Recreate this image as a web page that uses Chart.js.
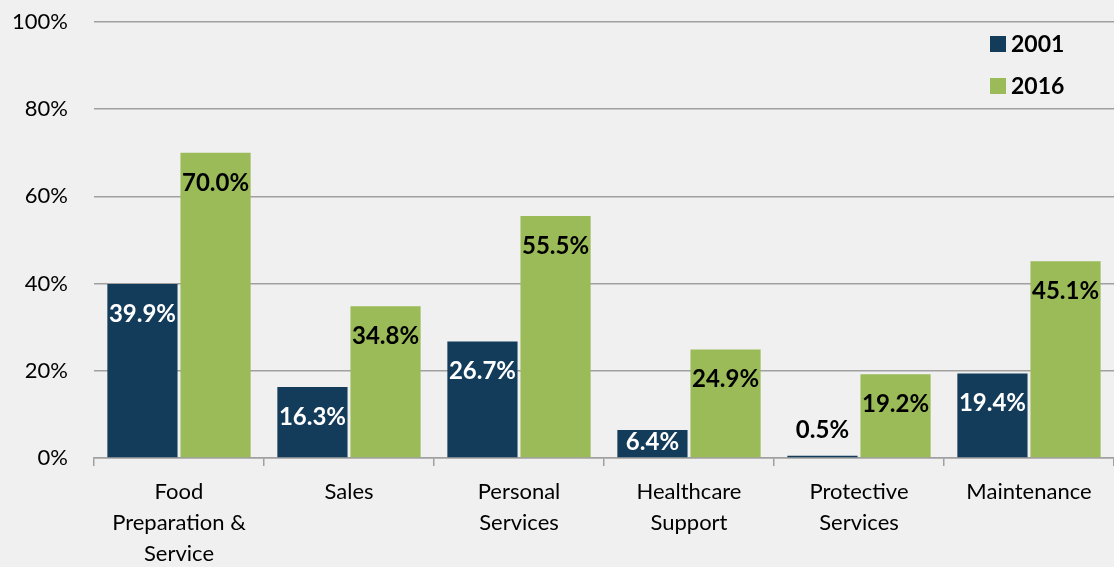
<!DOCTYPE html>
<html>
<head>
<meta charset="utf-8">
<script src="https://cdn.jsdelivr.net/npm/chart.js@4.4.1/dist/chart.umd.min.js"></script>
<style>
  html, body { margin: 0; padding: 0; background: #f0f0f0; }
  #wrap { width: 1114px; height: 567px; position: relative; }
</style>
</head>
<body>
<div id="wrap"><canvas id="chart"></canvas></div>
<script>
// --- DATA ---
const categories = [
    ['Food', 'Preparation &', 'Service'],
    'Sales',
    ['Personal', 'Services'],
    ['Healthcare', 'Support'],
    ['Protective', 'Services'],
    'Maintenance'
];
const values2001 = [39.9, 16.3, 26.7, 6.4, 0.5, 19.4];
const values2016 = [70.0, 34.8, 55.5, 24.9, 19.2, 45.1];
const yTicks = [0, 20, 40, 60, 80, 100];

const NAVY = '#133b5a';
const GREEN = '#9bbb59';
const FONT = 'Lato, "Open Sans", sans-serif';

// value labels inside bar tops (white on navy, black on green)
const valueLabels = {
    id: 'valueLabels',
    afterDatasetsDraw(chart) {
        const ctx = chart.ctx;
        ctx.save();
        ctx.font = `bold 24px ${FONT}`;
        ctx.textAlign = 'center';
        ctx.textBaseline = 'middle';
        chart.data.datasets.forEach((ds, di) => {
            chart.getDatasetMeta(di).data.forEach((bar, i) => {
                const h = bar.base - bar.y;
                let y, color;
                if (h < 22) {
                    // too thin, put it above the bar
                    y = bar.y - 26;
                    color = '#000';
                } else {
                    y = Math.min(bar.y + 30, bar.base - 15);
                    color = ds.labelColor;
                }
                ctx.fillStyle = color;
                ctx.fillText(ds.data[i].toFixed(1) + '%', bar.x, y);
            });
        });
        ctx.restore();
    }
};

// legend stacked in top right corner
const cornerLegend = {
    id: 'cornerLegend',
    afterDraw(chart) {
        const ctx = chart.ctx;
        ctx.save();
        ctx.font = `bold 23px ${FONT}`;
        ctx.textBaseline = 'middle';
        chart.data.datasets.forEach((ds, i) => {
            const cy = 44 + i * 42;
            ctx.fillStyle = ds.backgroundColor;
            ctx.fillRect(990, cy - 8, 16, 16);
            ctx.fillStyle = '#000';
            ctx.fillText(ds.label, 1011, cy + 1);
        });
        ctx.restore();
    }
};

new Chart(document.getElementById('chart'), {
    type: 'bar',
    data: {
        labels: categories,
        datasets: [
            { label: '2001', data: values2001, backgroundColor: NAVY, labelColor: '#fff' },
            { label: '2016', data: values2016, backgroundColor: GREEN, labelColor: '#000' }
        ]
    },
    options: {
        responsive: true,
        maintainAspectRatio: false,
        animation: false,
        layout: { padding: { top: 22, right: 0, left: 0, bottom: 0 } },
        datasets: { bar: { categoryPercentage: 0.86, barPercentage: 0.96 } },
        plugins: { legend: { display: false }, tooltip: { enabled: false } },
        scales: {
            x: {
                grid: { offset: true, drawOnChartArea: false, color: '#a0a0a0', tickLength: 8, lineWidth: 1.5 },
                border: { color: '#a0a0a0', width: 1.5 },
                ticks: { color: '#000', font: { family: FONT, size: 22, lineHeight: 1.42 }, padding: 10, maxRotation: 0 },
                afterFit(scale) { scale.height = 109; }
            },
            y: {
                min: 0, max: 100,
                afterBuildTicks(scale) { scale.ticks = yTicks.map(v => ({ value: v })); },
                grid: { color: '#a0a0a0', lineWidth: 1.5, drawTicks: false },
                border: { display: false },
                ticks: { color: '#000', font: { family: FONT, size: 22 }, padding: 26, callback: v => v + '%' },
                afterFit(scale) { scale.width = 94; scale.paddingTop = 0; scale.paddingBottom = 0; }
            }
        }
    },
    plugins: [valueLabels, cornerLegend]
});
</script>
</body>
</html>
